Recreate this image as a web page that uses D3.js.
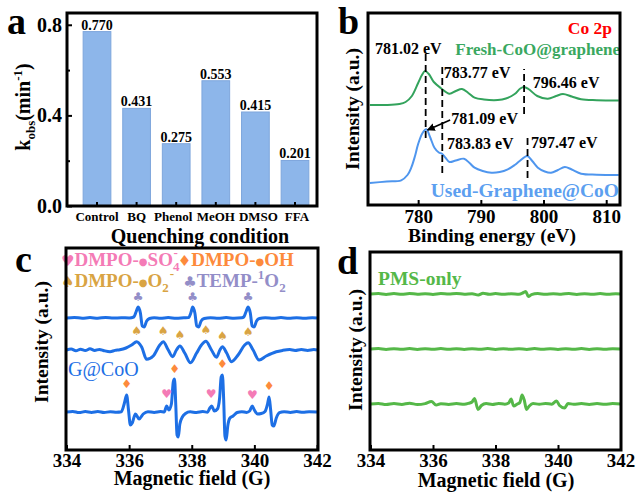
<!DOCTYPE html>
<html>
<head>
<meta charset="utf-8">
<script src="https://cdn.jsdelivr.net/npm/d3@7"></script>
<style>
  body { margin: 0; background: #fff; }
  svg { display: block; font-family: "Liberation Serif", "Times New Roman", serif; font-weight: bold; }
</style>
</head>
<body>
<svg id="chart" width="636" height="494"></svg>
<script>
// ---- panel a: rate constants ----
const conditions = ["Control", "BQ", "Phenol", "MeOH", "DMSO", "FFA"];
const kobs = [0.770, 0.431, 0.275, 0.553, 0.415, 0.201];
const kTicks = [0, 0.4, 0.8];
const kMinorTicks = [0.2, 0.6];

// ---- panel b: Co 2p XPS, [binding energy, intensity a.u.] ----
const freshXps = [[772.3,100],[775,100],[777,101],[778,103],[779,109],[780,122],[780.6,130],[781.1,134],[781.7,131],[782.5,123],[783.6,117],[785,111.3],[786,114],[787,116],[788,112],[789,107.3],[790.5,105.5],[792.7,105],[794,106.5],[795.4,111],[796.3,116.5],[796.9,118],[797.6,116],[799,109],[800.7,106.3],[802,109],[803.1,111],[804.5,108.5],[806,105.7],[808.5,104.8],[812,104.5]];
const usedXps = [[772.3,22],[775,23.5],[777.3,24.7],[778.3,30],[778.9,37.3],[779.5,49],[780,61],[780.7,72],[781.3,75.7],[781.9,68],[782.6,57.3],[783.3,52.5],[783.8,51.3],[784.4,47],[785,43],[786,44.5],[787.3,46.3],[788.2,42],[789,37.3],[790.3,34],[791.7,32.3],[793,33],[794.3,35.7],[795.4,40],[796.2,44],[797.4,49],[798.2,44],[799.1,37.3],[800.2,33.5],[801.2,32.3],[802.3,35],[803.4,38],[804.5,35.5],[806,31.3],[808.5,30.3],[812,30]];
const energyTicks = [780, 790, 800, 810];
// dashed guide lines: [energy, from, to] in intensity units
const peakGuides = [[781.2,67,154],[783.85,32,142],[796.9,91,136],[797.45,27,71]];

// ---- panel c: EPR spectra, [field G, intensity a.u.] ----
const tempTrace = [[334.0,132],[334.25,132.6],[334.5,131.7],[334.75,132.4],[335.0,131.8],[335.25,132.5],[335.5,131.9],[335.75,132.3],[336.0,132],[336.15,133],[336.22,138],[336.29,143],[336.36,137],[336.42,124],[336.48,123],[336.56,129],[336.65,131.5],[336.8,132.3],[337.0,131.7],[337.25,132.4],[337.5,131.8],[337.75,132.2],[337.9,132.4],[337.97,137],[338.03,143],[338.1,137],[338.16,124],[338.22,123],[338.3,129],[338.4,131.5],[338.6,132.3],[338.85,131.7],[339.1,132.4],[339.35,131.8],[339.6,132.2],[339.66,133],[339.73,138],[339.8,143],[339.87,137],[339.93,124],[339.99,123],[340.07,129],[340.16,131.5],[340.35,132.3],[340.6,131.7],[340.85,132.4],[341.1,131.8],[341.35,132.3],[341.6,131.7],[341.85,132.3],[342.0,132]];
const o2Trace = [[334.0,100],[334.15,101],[334.3,99.2],[334.45,100.8],[334.6,99.4],[334.75,101.2],[334.9,99.5],[335.05,100.6],[335.2,99.3],[335.39,98.3],[335.55,99.6],[335.7,100.2],[335.9,102],[336.08,105],[336.24,108.3],[336.4,103],[336.56,90.7],[336.77,94],[336.98,105],[337.09,108.3],[337.25,100],[337.39,93.3],[337.51,100],[337.62,104],[337.78,96.7],[337.96,87.3],[338.15,96.7],[338.31,105],[338.45,108.7],[338.63,100],[338.79,92.7],[338.9,100],[338.98,103.3],[339.11,97.3],[339.27,88.3],[339.48,95],[339.69,105],[339.8,107.3],[339.96,100],[340.15,90],[340.38,94],[340.7,98.3],[340.9,99.6],[341.13,100.4],[341.3,99.5],[341.5,100.5],[341.7,99.6],[341.9,100.4],[342.0,100]];
const ohTrace = [[334.0,38],[334.2,38.6],[334.4,37.4],[334.6,38.4],[334.8,37.6],[335.0,38.5],[335.2,37.5],[335.4,38.3],[335.6,37.7],[335.75,38.2],[335.85,47],[335.92,55],[335.98,40],[336.04,25],[336.1,27],[336.2,36],[336.32,31],[336.45,36],[336.6,38.3],[336.8,37.6],[337.0,38.4],[337.12,38],[337.2,44],[337.27,40],[337.35,46],[337.41,68],[337.45,71],[337.49,45],[337.53,15],[337.57,13],[337.62,26],[337.7,33],[337.8,36.5],[337.95,38.2],[338.15,37.5],[338.35,38.4],[338.5,37.8],[338.58,42],[338.64,44],[338.72,39],[338.82,41],[338.89,52],[338.94,73],[338.98,75],[339.02,50],[339.06,14],[339.1,10],[339.15,24],[339.22,32],[339.32,34],[339.45,37.5],[339.6,38.3],[339.75,37.6],[339.85,39],[339.93,44],[340.0,40],[340.1,36],[340.22,36.5],[340.34,38.5],[340.42,46],[340.47,53],[340.52,40],[340.57,25],[340.62,24],[340.7,32],[340.8,37.3],[340.95,38.3],[341.15,37.6],[341.35,38.4],[341.55,37.7],[341.75,38.3],[342.0,38]];
const ohMarks = [[335.92,62],[337.45,77],[338.98,82],[340.47,60]];
const so4Marks = [[337.2,52],[338.62,52],[339.94,51]];
const o2Marks = [[336.24,115],[337.09,115],[337.62,111],[338.45,116],[338.98,110],[339.8,114]];
const tempMarks = [[336.29,149],[338.03,149],[339.8,149]];
const fieldTicks = [334, 336, 338, 340, 342];

// ---- panel d: PMS only ----
const pmsTop = [[334.0,156],[334.25,156.5],[334.5,155.6],[334.75,156.4],[335.0,155.7],[335.25,156.5],[335.5,155.8],[335.75,156.3],[336.0,155.6],[336.25,156.4],[336.5,155.9],[336.75,156.6],[337.0,155.7],[337.25,156.3],[337.45,155],[337.6,156.8],[337.8,155.8],[338.0,156.4],[338.25,155.7],[338.5,156.3],[338.75,155.8],[338.9,157.5],[338.97,158.5],[339.05,153.5],[339.15,155.3],[339.35,156.4],[339.6,155.7],[339.85,156.3],[340.1,155.8],[340.35,156.5],[340.6,155.6],[340.85,156.3],[341.1,155.8],[341.35,156.4],[341.6,155.7],[341.85,156.3],[342.0,156]];
const pmsMid = [[334.0,101],[334.25,101.4],[334.5,100.6],[334.75,101.3],[335.0,100.7],[335.25,101.4],[335.5,100.6],[335.75,101.2],[336.0,100.8],[336.25,101.4],[336.5,100.7],[336.75,101.3],[337.0,100.6],[337.25,101.2],[337.5,100.7],[337.75,101.4],[338.0,100.6],[338.25,101.3],[338.5,100.8],[338.75,101.2],[339.0,100.6],[339.25,101.4],[339.5,100.7],[339.75,101.3],[340.0,100.6],[340.25,101.2],[340.5,100.8],[340.75,101.4],[341.0,100.6],[341.25,101.3],[341.5,100.7],[341.75,101.2],[342.0,101]];
const pmsBottom = [[334.0,46],[334.25,46.6],[334.5,45.5],[334.75,46.5],[335.0,45.6],[335.25,46.8],[335.5,45.4],[335.75,46.4],[335.95,48.5],[336.1,45],[336.25,46.3],[336.5,45.6],[336.75,46.5],[337.0,45.7],[337.15,46.8],[337.25,48],[337.33,51.5],[337.44,40.5],[337.55,44.5],[337.7,46.4],[337.9,45.5],[338.1,46.5],[338.3,45.8],[338.42,47],[338.5,51],[338.58,44],[338.7,46],[338.78,47.5],[338.85,55],[338.92,50],[338.99,40.5],[339.08,44],[339.2,46.5],[339.4,45.7],[339.6,46.5],[339.8,45.8],[339.95,49],[340.05,44.5],[340.21,42],[340.32,46.5],[340.5,45.7],[340.75,46.5],[341.0,45.6],[341.25,46.4],[341.5,45.7],[341.75,46.4],[342.0,46]];

const svg = d3.select("#chart");
const sym = '"DejaVu Sans", sans-serif';

function frame(box) {
  svg.append("rect")
    .attr("x", box.l).attr("y", box.t)
    .attr("width", box.r - box.l).attr("height", box.b - box.t)
    .attr("fill", "none").attr("stroke", "#000").attr("stroke-width", 3);
}

function styleAxis(g, size) {
  g.select(".domain").remove();
  g.selectAll(".tick line").attr("stroke", "#000").attr("stroke-width", 2);
  g.selectAll(".tick text")
    .attr("fill", "#000")
    .style("font-family", '"Liberation Serif", "Times New Roman", serif')
    .style("font-weight", "bold")
    .style("font-size", size + "px");
}

function label(x, y, txt, size, opts = {}) {
  return svg.append("text")
    .attr("x", x).attr("y", y)
    .attr("text-anchor", opts.anchor || "start")
    .attr("fill", opts.fill || "#000")
    .style("font-size", size + "px")
    .style("font-weight", opts.weight || "bold")
    .text(txt);
}

function yTitle(x, y, txt) {
  label(0, 0, txt, 19.5, { anchor: "middle" })
    .attr("transform", `translate(${x},${y}) rotate(-90)`);
}

// ================= panel a =================
const A = { l: 67, r: 317, t: 13, b: 206 };
const xa = d3.scaleBand().domain(conditions).range([77.2, 314.8]).paddingInner(0.3).paddingOuter(0.15);
const ya = d3.scaleLinear().domain([0, 0.852]).range([A.b, A.t]);

svg.append("g").selectAll("rect")
  .data(conditions)
  .join("rect")
  .attr("x", d => xa(d))
  .attr("y", (d, i) => ya(kobs[i]))
  .attr("width", xa.bandwidth())
  .attr("height", (d, i) => A.b - ya(kobs[i]))
  .attr("fill", "#8db6ea")
  .attr("stroke", "#7ea6dc")
  .attr("stroke-width", 1);

svg.append("g").selectAll("text")
  .data(conditions)
  .join("text")
  .attr("x", d => xa(d) + xa.bandwidth() / 2)
  .attr("y", (d, i) => ya(kobs[i]) - 2)
  .attr("text-anchor", "middle")
  .style("font-size", "14px")
  .text((d, i) => d3.format(".3f")(kobs[i]));

svg.append("g")
  .attr("transform", `translate(${A.l},0)`)
  .call(d3.axisLeft(ya).tickValues(kTicks).tickFormat(d3.format(".1f")).tickSizeInner(-5).tickSizeOuter(0).tickPadding(5))
  .call(g => styleAxis(g, 20));
svg.append("g")
  .attr("transform", `translate(${A.l},0)`)
  .call(d3.axisLeft(ya).tickValues(kMinorTicks).tickFormat("").tickSizeInner(-3).tickSizeOuter(0))
  .call(g => styleAxis(g, 20));
const nudge = { Phenol: -3, MeOH: 0, DMSO: 3, FFA: 2 };
svg.append("g")
  .attr("transform", `translate(0,${A.b})`)
  .call(d3.axisBottom(xa).tickSizeInner(-4).tickSizeOuter(0).tickPadding(6))
  .call(g => styleAxis(g, 13))
  .call(g => g.selectAll(".tick text").attr("dx", d => nudge[d] || 0));
frame(A);

label(200, 243, "Quenching condition", 20, { anchor: "middle" });
const kt = svg.append("text")
  .attr("transform", "translate(30,107) rotate(-90)")
  .attr("text-anchor", "middle")
  .style("font-size", "20px");
kt.append("tspan").text("k");
kt.append("tspan").attr("dy", 5).style("font-size", "13px").text("obs");
kt.append("tspan").attr("dy", -5).text("(min");
kt.append("tspan").attr("dy", -8).style("font-size", "13px").text("-1");
kt.append("tspan").attr("dy", 8).text(")");
label(7, 34, "a", 38);

// ================= panel b =================
const B = { l: 368, r: 620, t: 13, b: 205 };
const xb = d3.scaleLinear().domain([772, 812.2]).range([B.l, B.r]);
const yb = d3.scaleLinear().domain([0, 192]).range([B.b, B.t]);
const lineB = d3.line().x(d => xb(d[0])).y(d => yb(d[1])).curve(d3.curveCatmullRom.alpha(0.5));

svg.append("path").datum(freshXps).attr("d", lineB)
  .attr("fill", "none").attr("stroke", "#33a35c").attr("stroke-width", 2);
svg.append("path").datum(usedXps).attr("d", lineB)
  .attr("fill", "none").attr("stroke", "#4f96ee").attr("stroke-width", 2);

svg.append("g").selectAll("line")
  .data(peakGuides)
  .join("line")
  .attr("x1", d => xb(d[0])).attr("x2", d => xb(d[0]))
  .attr("y1", d => yb(d[1])).attr("y2", d => yb(d[2]))
  .attr("stroke", "#000").attr("stroke-width", 1.8).attr("stroke-dasharray", "7,4");

svg.append("defs").append("marker")
  .attr("id", "arrow").attr("viewBox", "0 0 10 10")
  .attr("refX", 9).attr("refY", 5)
  .attr("markerWidth", 5).attr("markerHeight", 5)
  .attr("orient", "auto")
  .append("path").attr("d", "M0,0L10,5L0,10z").attr("fill", "#000");
svg.append("line")
  .attr("x1", xb(785.1)).attr("y1", yb(85))
  .attr("x2", xb(781.5)).attr("y2", yb(75))
  .attr("stroke", "#000").attr("stroke-width", 1.6)
  .attr("marker-end", "url(#arrow)");

label(xb(773.1), yb(151), "781.02 eV", 16);
label(xb(784.1), yb(127), "783.77 eV", 16);
label(xb(798.3), yb(117), "796.46 eV", 16);
label(xb(785.3), yb(81), "781.09 eV", 16);
label(xb(784.6), yb(56), "783.83 eV", 16);
label(xb(798.0), yb(57), "797.47 eV", 16);
label(620, 55, "Fresh-CoO@graphene", 17, { anchor: "end", fill: "#3aa860" });
label(612, 34, "Co 2p", 17.5, { anchor: "end", fill: "#ff0000" });
label(619, 197, "Used-Graphene@CoO", 19.5, { anchor: "end", fill: "#5c9ff0" });

svg.append("g")
  .attr("transform", `translate(0,${B.b})`)
  .call(d3.axisBottom(xb).tickValues(energyTicks).tickSizeInner(-5).tickSizeOuter(0).tickPadding(5))
  .call(g => styleAxis(g, 19));
frame(B);
label(492, 242, "Binding energy (eV)", 19.5, { anchor: "middle" });
yTitle(359, 109, "Intensity (a.u.)");
label(338, 34, "b", 38);

// ================= panel c =================
const C = { l: 66, r: 318, t: 248, b: 450 };
const xc = d3.scaleLinear().domain([334, 342]).range([66.5, 317]);
const yc = d3.scaleLinear().domain([0, 202]).range([C.b, C.t]);
const lineC = d3.line().x(d => xc(d[0])).y(d => yc(d[1])).curve(d3.curveMonotoneX);

[tempTrace, o2Trace, ohTrace].forEach(tr => {
  svg.append("path").datum(tr).attr("d", lineC)
    .attr("fill", "none").attr("stroke", "#1d6fe5").attr("stroke-width", 3)
    .attr("stroke-linejoin", "round");
});

const pink = "#f47bb6", orange = "#fd8a3b", gold = "#d9a443", purple = "#938ec8";
function marks(data, glyph, color) {
  svg.append("g").selectAll("text")
    .data(data)
    .join("text")
    .attr("x", d => xc(d[0])).attr("y", d => yc(d[1]))
    .attr("text-anchor", "middle")
    .attr("fill", color)
    .style("font-family", sym)
    .style("font-size", "12px")
    .text(glyph);
}
marks(ohMarks, "\u2666", orange);
marks(so4Marks, "\u2665", pink);
marks(o2Marks, "\u2660", gold);
marks(tempMarks, "\u2663", purple);

function dot(t, color) {
  t.append("tspan").attr("fill", color).style("font-family", sym).style("font-size", "10px").attr("dy", -1).text("\u25CF");
}
const lg1 = svg.append("text").attr("x", 61).attr("y", 266).style("font-size", "19px");
lg1.append("tspan").attr("fill", pink).style("font-family", sym).style("font-size", "15px").text("\u2665");
lg1.append("tspan").attr("fill", pink).text("DMPO-");
dot(lg1, pink);
lg1.append("tspan").attr("fill", pink).attr("dy", 1).text("SO");
lg1.append("tspan").attr("fill", pink).attr("dy", 5).style("font-size", "13px").text("4");
lg1.append("tspan").attr("fill", pink).attr("dx", -6).attr("dy", -14).style("font-size", "13px").text("-");
lg1.append("tspan").attr("fill", orange).attr("dy", 9).style("font-family", sym).style("font-size", "15px").text("\u2666");
lg1.append("tspan").attr("fill", orange).text("DMPO-");
dot(lg1, orange);
lg1.append("tspan").attr("fill", orange).attr("dy", 1).text("OH");

const lg2 = svg.append("text").attr("x", 61).attr("y", 287).style("font-size", "19px");
lg2.append("tspan").attr("fill", gold).style("font-family", sym).style("font-size", "15px").text("\u2660");
lg2.append("tspan").attr("fill", gold).text("DMPO-");
dot(lg2, gold);
lg2.append("tspan").attr("fill", gold).attr("dy", 1).text("O");
lg2.append("tspan").attr("fill", gold).attr("dy", 5).style("font-size", "13px").text("2");
lg2.append("tspan").attr("fill", gold).attr("dx", 1).attr("dy", -14).style("font-size", "13px").text("-");
lg2.append("tspan").attr("fill", purple).attr("dx", 9).attr("dy", 9).style("font-family", sym).style("font-size", "15px").text("\u2663");
lg2.append("tspan").attr("fill", purple).text("TEMP-");
lg2.append("tspan").attr("fill", purple).attr("dy", -8).style("font-size", "13px").text("1");
lg2.append("tspan").attr("fill", purple).attr("dy", 8).text("O");
lg2.append("tspan").attr("fill", purple).attr("dy", 5).style("font-size", "13px").text("2");

label(68, 376, "G@CoO", 20, { fill: "#1d6fe5", weight: "normal" });

svg.append("g")
  .attr("transform", `translate(0,${C.b})`)
  .call(d3.axisBottom(xc).tickValues(fieldTicks).tickSizeInner(-5).tickSizeOuter(0).tickPadding(3.5))
  .call(g => styleAxis(g, 19));
frame(C);
label(192, 485, "Magnetic field (G)", 20, { anchor: "middle" });
yTitle(48, 342, "Intensity (a.u.)");
label(15, 272, "c", 38);

// ================= panel d =================
const D = { l: 370, r: 621, t: 252, b: 450 };
const xd = d3.scaleLinear().domain([334, 342]).range([370.5, 620.5]);
const yd = d3.scaleLinear().domain([0, 198]).range([D.b, D.t]);
const lineD = d3.line().x(d => xd(d[0])).y(d => yd(d[1])).curve(d3.curveMonotoneX);
[pmsTop, pmsMid, pmsBottom].forEach(tr => {
  svg.append("path").datum(tr).attr("d", lineD)
    .attr("fill", "none").attr("stroke", "#55b848").attr("stroke-width", 3)
    .attr("stroke-linejoin", "round");
});
label(378, 285, "PMS-only", 19.5, { fill: "#55b848" });

svg.append("g")
  .attr("transform", `translate(0,${D.b})`)
  .call(d3.axisBottom(xd).tickValues(fieldTicks).tickSizeInner(-5).tickSizeOuter(0).tickPadding(3.5))
  .call(g => styleAxis(g, 19));
frame(D);
label(496, 487, "Magnetic field (G)", 20, { anchor: "middle" });
yTitle(362, 350, "Intensity (a.u.)");
label(337, 274, "d", 38);
</script>
</body>
</html>
